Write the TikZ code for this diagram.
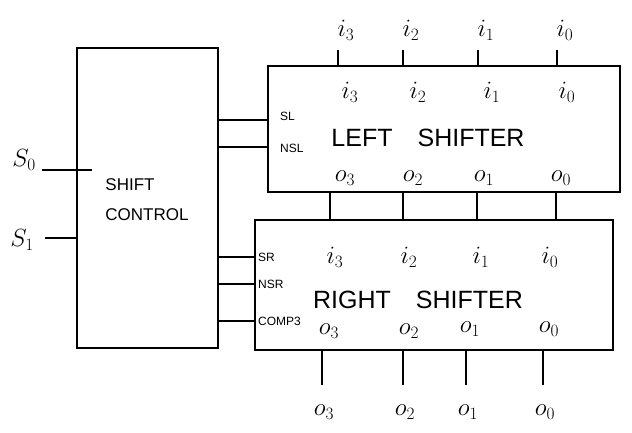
\documentclass[tikz,border=0pt]{standalone}
\usepackage{fontspec}
\setmainfont{Liberation Sans}
\begin{document}
\begin{tikzpicture}[x=1pt,y=-1pt,
  blk/.style={draw,line width=1.1pt,inner sep=0pt},
  wire/.style={line width=1.1pt},
  pin/.style={inner sep=1pt,font=\fontsize{23}{26}\selectfont},
  ctl/.style={inner sep=1pt,anchor=west,font=\fontsize{12}{14}\selectfont},
  title/.style={inner sep=0pt,font=\fontsize{25}{28}\selectfont}]
\useasboundingbox (0,0) rectangle (632,432);
% blocks
\node[blk,minimum width=141pt,minimum height=300pt] (SC) at (147.5,198) {};
\node[blk,minimum width=352pt,minimum height=126pt] (LS) at (444,129) {};
\node[blk,minimum width=358pt,minimum height=130pt] (RS) at (434,285) {};
% titles
\node[title,align=left,font=\fontsize{17}{30}\selectfont] (sct) at (147,200) {SHIFT\\CONTROL};
\node[title] (lst) at (428,138) {LEFT\quad SHIFTER};
\node[title] (rst) at (418,300) {RIGHT\quad SHIFTER};
% control inputs
\node[pin,font=\fontsize{26}{28}\selectfont] (s0) at (24,160) {$S_0$};
\node[pin,font=\fontsize{26}{28}\selectfont] (s1) at (22,240) {$S_1$};
\coordinate (s0a) at (42,170);
\coordinate (s0b) at (92,170);
\coordinate (s1a) at (45,238);
\draw[wire] (s0a) -- (s0b);
\draw[wire] (s1a) -- (SC.west |- s1a);
% control outputs
\node[ctl] (sl) at (279,116) {SL};
\node[ctl] (nsl) at (279,148) {NSL};
\node[ctl] (sr) at (257,257) {SR};
\node[ctl] (nsr) at (257,284) {NSR};
\node[ctl] (comp) at (257,321) {COMP3};
\coordinate (ysl) at (0,120);
\coordinate (ynsl) at (0,147);
\draw[wire] (SC.east |- ysl) -- (LS.west |- ysl);
\draw[wire] (SC.east |- ynsl) -- (LS.west |- ynsl);
\draw[wire] (SC.east |- sr) -- (RS.west |- sr);
\draw[wire] (SC.east |- nsr) -- (RS.west |- nsr);
\draw[wire] (SC.east |- comp) -- (RS.west |- comp);
% top inputs
\foreach \n/\x in {3/338,2/403,1/478,0/557}{
  \node[pin] (ti\n) at (\x+8,30) {$i_\n$};
  \coordinate (tp\n) at (\x,50);
  \draw[wire] (tp\n) -- (tp\n |- LS.north);
}
% left shifter inner labels
\node[pin] (li3) at (350,92) {$i_3$};
\node[pin] (li2) at (418,92) {$i_2$};
\node[pin] (li1) at (492,92) {$i_1$};
\node[pin] (li0) at (567,92) {$i_0$};
\node[pin] (lo3) at (345,178) {$o_3$};
\node[pin] (lo2) at (413,178) {$o_2$};
\node[pin] (lo1) at (484,178) {$o_1$};
\node[pin] (lo0) at (561,178) {$o_0$};
% links between shifters
\foreach \n/\x in {3/330,2/403,1/477,0/556}{
  \coordinate (lk\n) at (\x,0);
  \draw[wire] (lk\n |- LS.south) -- (lk\n |- RS.north);
}
% right shifter inner labels
\node[pin] (ri3) at (335,257) {$i_3$};
\node[pin] (ri2) at (409,257) {$i_2$};
\node[pin] (ri1) at (481,257) {$i_1$};
\node[pin] (ri0) at (550,257) {$i_0$};
\node[pin] (ro3) at (329,331) {$o_3$};
\node[pin] (ro2) at (409,331) {$o_2$};
\node[pin] (ro1) at (470,329) {$o_1$};
\node[pin] (ro0) at (549,329) {$o_0$};
% outputs
\foreach \n/\x in {3/322,2/403,1/466,0/543}{
  \coordinate (op\n) at (\x,385);
  \draw[wire] (op\n |- RS.south) -- (op\n);
  \node[pin] (oo\n) at (\x+2,412) {$o_\n$};
}
\end{tikzpicture}
\end{document}
